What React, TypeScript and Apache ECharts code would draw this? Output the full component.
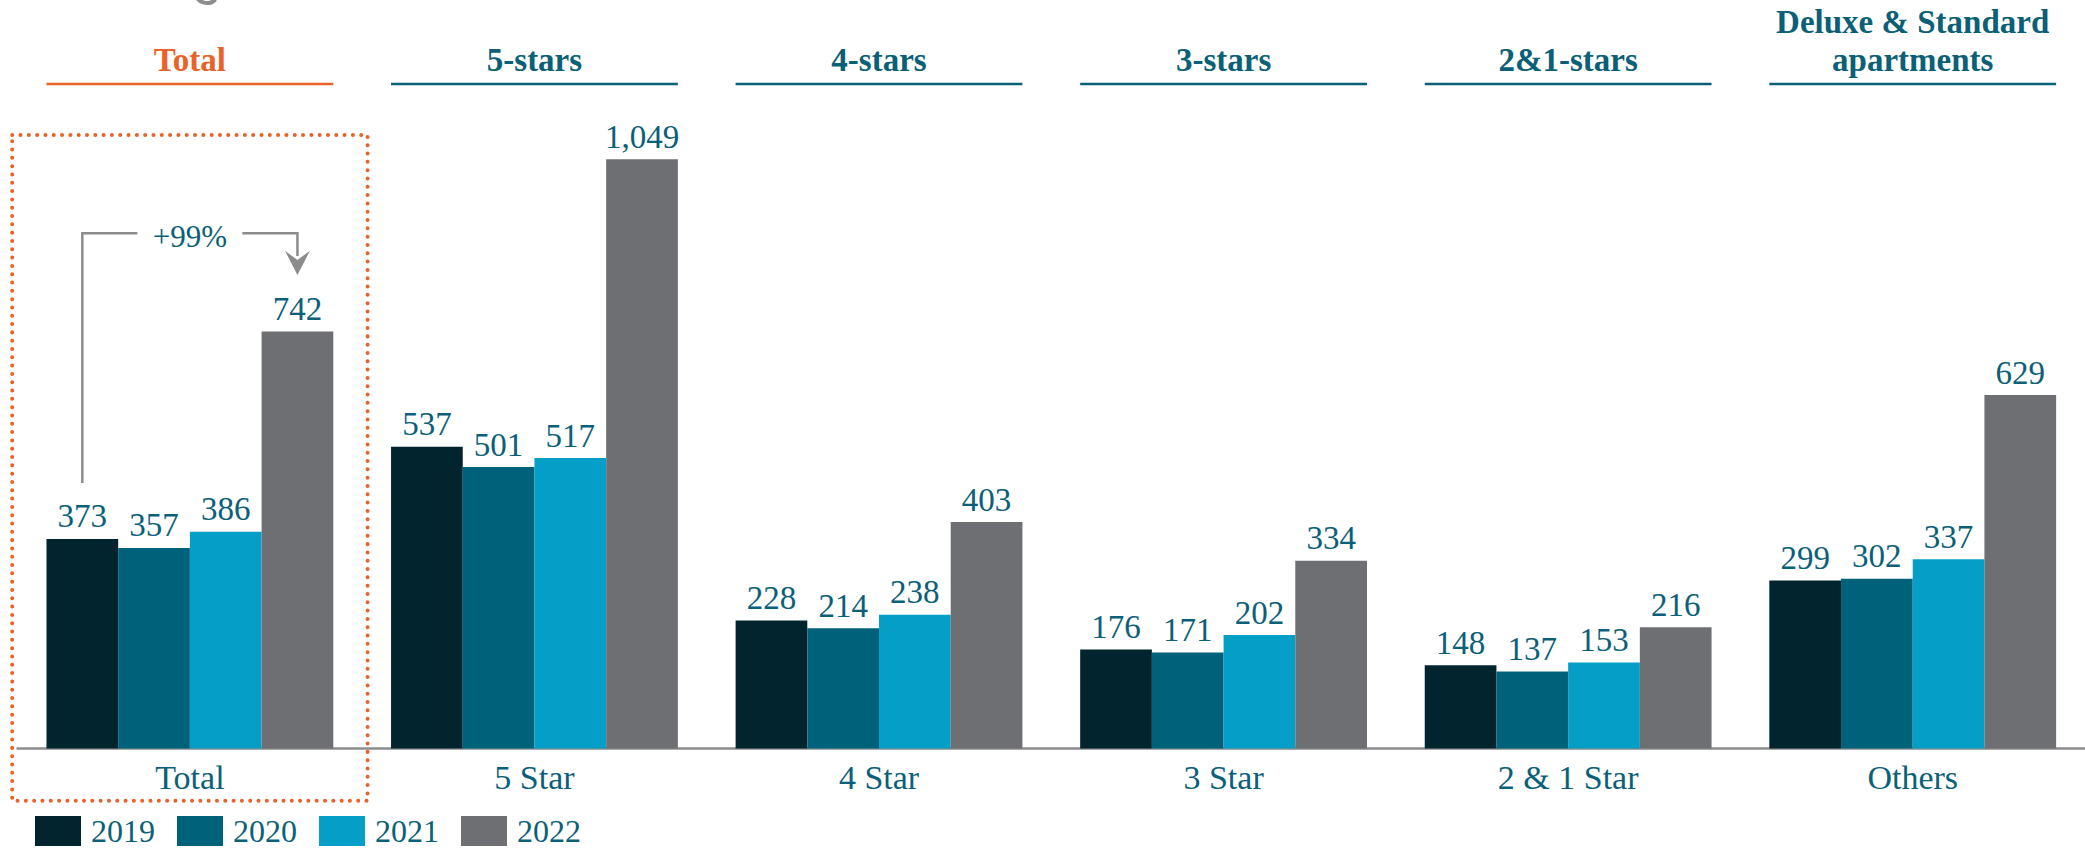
import React, { useEffect, useRef } from "react";
import * as echarts from "echarts";

const categories = ["Total", "5 Star", "4 Star", "3 Star", "2 & 1 Star", "Others"];
const headers = ["Total", "5-stars", "4-stars", "3-stars", "2&1-stars", "Deluxe & Standard\napartments"];
const years = ["2019", "2020", "2021", "2022"];
const v2019 = [373, 537, 228, 176, 148, 299];
const v2020 = [357, 501, 214, 171, 137, 302];
const v2021 = [386, 517, 238, 202, 153, 337];
const v2022 = [742, 1049, 403, 334, 216, 629];
const growthLabel = "+99%";

const colors = ["#02242e", "#00627a", "#049ec7", "#6e6f73"];
const TEAL = "#0b6079";
const ORANGE = "#e8622a";
const FONT = "Liberation Serif";
const GAP_RATIO = 0.1676;

export default function App() {
  const ref = useRef<HTMLDivElement>(null);

  useEffect(() => {
    document.body.style.margin = "0";
    const chart = echarts.init(ref.current!, null, { renderer: "svg" });
    const seriesData = [v2019, v2020, v2021, v2022];
    chart.setOption({
      animation: false,
      color: colors,
      grid: { left: 17.6, width: 2083.2, top: 74.3, bottom: 106.5, containLabel: false },
      legend: {
        data: years,
        left: 30,
        top: 810,
        itemWidth: 46,
        itemHeight: 30,
        itemGap: 22,
        icon: "rect",
        textStyle: { fontSize: 32, color: TEAL, fontFamily: FONT, padding: [0, 0, 0, 5] },
      },
      xAxis: {
        type: "category",
        data: categories,
        axisLine: { show: true, lineStyle: { color: "#8c8c8c", width: 2.5 } },
        axisTick: { show: false },
        axisLabel: { fontSize: 34, color: TEAL, fontFamily: FONT, margin: 12 },
      },
      yAxis: { type: "value", min: 0, max: 1200, show: false, splitLine: { show: false } },
      series: years.map((y, i) => ({
        name: y,
        type: "bar",
        data: seriesData[i],
        barGap: "0%",
        barCategoryGap: (GAP_RATIO * 100).toFixed(2) + "%",
        label: {
          show: true,
          position: "top",
          distance: 6,
          fontSize: 33,
          color: TEAL,
          fontFamily: FONT,
          formatter: (p: any) => Number(p.value).toLocaleString("en-US"),
        },
      })),
    });

    const centers = categories.map((c) => chart.convertToPixel({ xAxisIndex: 0 }, c) as number);
    const band = centers[1] - centers[0];
    const half = (band * (1 - GAP_RATIO)) / 2;
    const barW = (half * 2) / 4;
    const c0 = centers[0];
    const x1 = c0 - 1.5 * barW;
    const x2 = c0 + 1.5 * barW;
    const yb = (chart.convertToPixel({ yAxisIndex: 0 }, v2019[0]) as number) - 56;
    const yTop = 233.3;

    const graphics: any[] = [];
    headers.forEach((h, i) => {
      const multi = h.includes("\n");
      graphics.push({
        type: "text",
        x: centers[i],
        y: multi ? 41 : 60,
        style: {
          text: h,
          fill: i === 0 ? ORANGE : "#0b5f77",
          fontSize: 33,
          fontWeight: "bold",
          fontFamily: FONT,
          align: "center",
          verticalAlign: "middle",
          lineHeight: 38.5,
        },
      });
      graphics.push({
        type: "line",
        shape: { x1: centers[i] - half, y1: 84, x2: centers[i] + half, y2: 84 },
        style: { stroke: i === 0 ? ORANGE : "#0b5f77", lineWidth: 2.5 },
      });
    });
    graphics.push({
      type: "rect",
      shape: { x: c0 - 177.7, y: 135, width: 355.4, height: 665.7 },
      style: { fill: "none", stroke: ORANGE, lineWidth: 4, lineDash: [0.01, 8.3], lineCap: "round" },
    });
    graphics.push({
      type: "polyline",
      shape: { points: [[x1, yb], [x1, yTop], [c0 - 52.5, yTop]] },
      style: { stroke: "#8c8c8c", lineWidth: 2.5, fill: "none" },
    });
    graphics.push({
      type: "polyline",
      shape: { points: [[c0 + 52.5, yTop], [x2, yTop], [x2, 256]] },
      style: { stroke: "#8c8c8c", lineWidth: 2.5, fill: "none" },
    });
    graphics.push({
      type: "polygon",
      shape: { points: [[x2 - 12.5, 250.7], [x2, 275], [x2 + 12.5, 250.7], [x2, 260]] },
      style: { fill: "#8c8c8c" },
    });
    graphics.push({
      type: "text",
      x: c0,
      y: 236.5,
      style: { text: growthLabel, fill: TEAL, fontSize: 31, fontFamily: FONT, align: "center", verticalAlign: "middle" },
    });
    graphics.push({
      type: "arc",
      shape: { cx: 207, cy: -9, r: 12, startAngle: Math.PI * 0.25, endAngle: Math.PI * 0.95 },
      style: { stroke: "#8c8c8c", lineWidth: 4, fill: "none" },
    });
    chart.setOption({ graphic: graphics });

    return () => chart.dispose();
  }, []);

  return <div ref={ref} style={{ width: 2085, height: 855 }} />;
}
